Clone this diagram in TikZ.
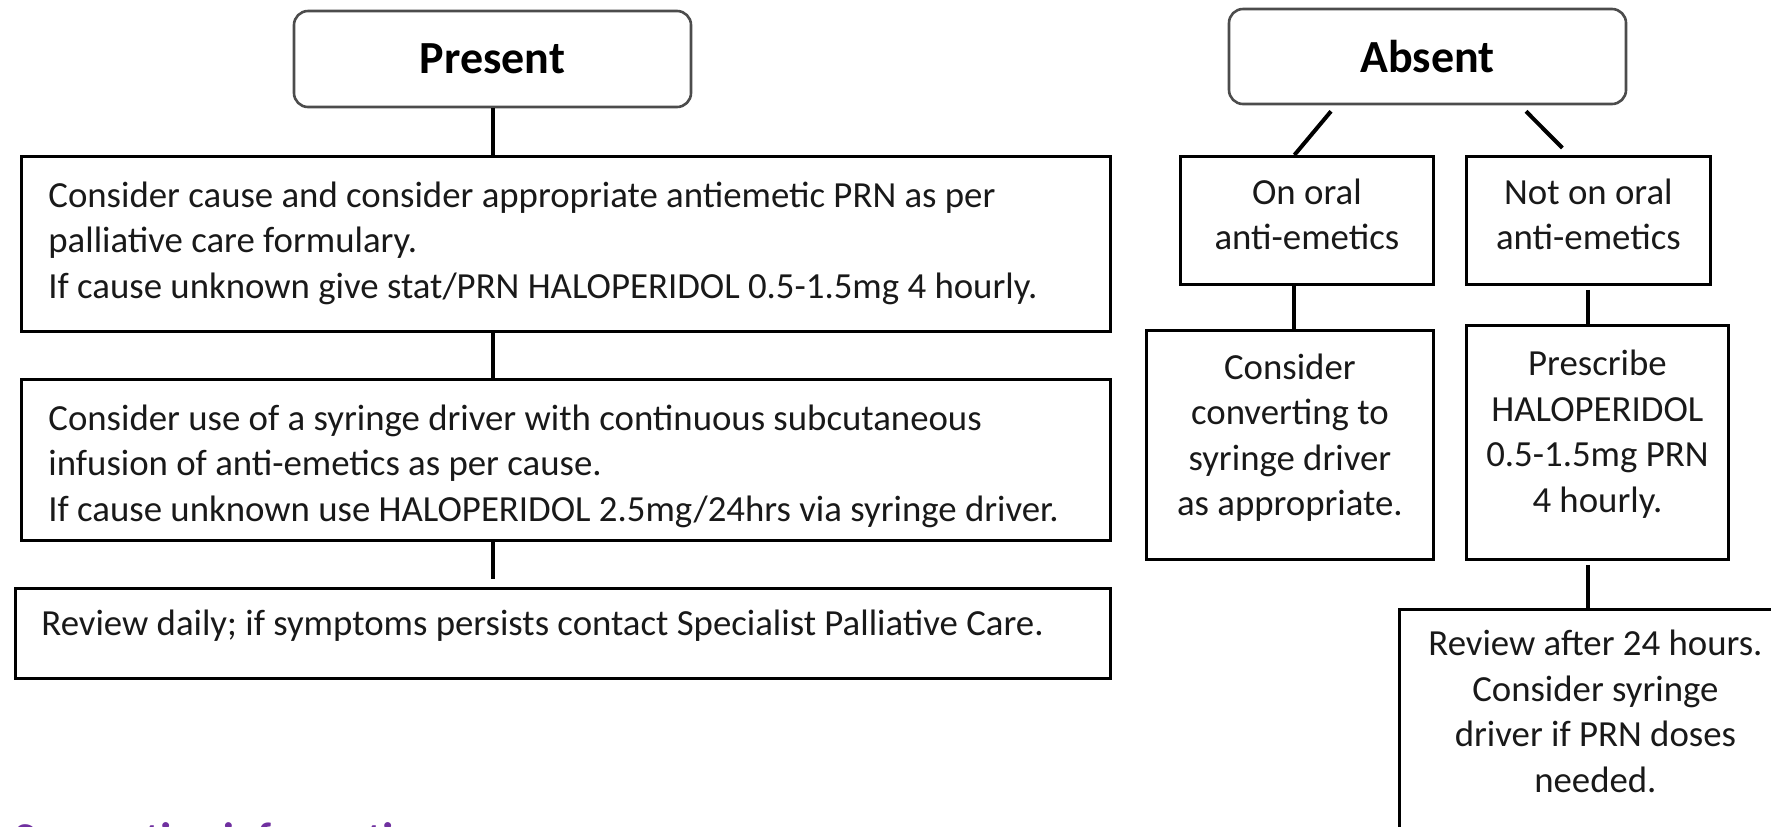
\documentclass[tikz,border=0pt]{standalone}
\usepackage{fontspec}
\setmainfont{Carlito}
\definecolor{headpurple}{RGB}{112,48,160}
% fixed-size text cell, content hung from the top
\newcommand\cellbox[3]{\begin{minipage}[c][#1][t]{#2}#3\end{minipage}}
\begin{document}
\begin{tikzpicture}[x=0.5pt,y=-0.5pt,
  base/.style={font={\fontsize{18.4pt}{22.75pt}\selectfont}, text=black!90},
  headbox/.style={draw=black!70, line width=1.3pt, rounded corners=7pt,
    font={\fontsize{23pt}{26pt}\selectfont\bfseries}, inner sep=0pt},
  stepbox/.style={base, draw=black, line width=1.4pt, anchor=north west},
  link/.style={draw=black, line width=2pt}]
\useasboundingbox (0,0) rectangle (1771,826);

% ---- Present branch ----
\node[headbox, minimum width=198.5pt, minimum height=48pt] (present) at (492.5,59) {Present};

\node[stepbox, inner xsep=13.5pt, inner ysep=9.5pt] (b1) at (20,155)
  {\cellbox{68.5pt}{517.5pt}{\raggedright\strut Consider cause and consider appropriate antiemetic PRN as per\\
   palliative care formulary.\\
   If cause unknown give stat/PRN HALOPERIDOL 0.5-1.5mg 4 hourly.}};

\node[stepbox, inner xsep=13.5pt, inner ysep=9.5pt] (b2) at (20,378)
  {\cellbox{61.5pt}{517.5pt}{\raggedright\strut Consider use of a syringe driver with continuous subcutaneous\\
   infusion of anti-emetics as per cause.\\
   If cause unknown use HALOPERIDOL 2.5mg/24hrs via syringe driver.}};

\node[stepbox, inner xsep=13pt, inner ysep=7.5pt] (b3) at (14,587)
  {\cellbox{30pt}{521.5pt}{\raggedright\strut Review daily; if symptoms persists contact Specialist Palliative Care.}};

\draw[link] (present.south) -- (present.south |- b1.north);
\draw[link] (present.south |- b1.south) -- (present.south |- b2.north);
\draw[link] (present.south |- b2.south) -- ([yshift=4pt]present.south |- b3.north);

% ---- Absent branch ----
\node[headbox, minimum width=198.5pt, minimum height=47.5pt] (absent) at (1427.5,56.5) {Absent};

\node[stepbox, inner xsep=2pt, inner ysep=8pt] (onoral) at (1179,155)
  {\cellbox{48pt}{122.5pt}{\centering\strut On oral\\ anti-emetics}};
\node[stepbox, inner xsep=2pt, inner ysep=8pt] (notoral) at (1465,155)
  {\cellbox{48pt}{118pt}{\centering\strut Not on oral\\ anti-emetics}};

\node[stepbox, inner xsep=2pt, inner ysep=8.5pt] (convert) at (1145,329)
  {\cellbox{97.5pt}{139.5pt}{\centering\strut Consider\\ converting to\\ syringe driver\\ as appropriate.}};
\node[stepbox, inner xsep=2pt, inner ysep=9.25pt] (prescribe) at (1465,324)
  {\cellbox{98.5pt}{127pt}{\centering\strut Prescribe\\ HALOPERIDOL\\ 0.5-1.5mg PRN\\ 4 hourly.}\hspace{19pt}};

\node[stepbox, inner xsep=2pt, inner ysep=7.25pt] (review) at (1398,608)
  {\cellbox{121.5pt}{192pt}{\centering\strut Review after 24 hours.\\ Consider syringe\\ driver if PRN doses\\ needed.}};

\draw[link] ([xshift=-48.25pt,yshift=-3pt]absent.south) -- ([xshift=-6.25pt]onoral.north);
\draw[link] ([xshift=49.25pt,yshift=-3pt]absent.south) -- ([xshift=-13pt,yshift=3.5pt]notoral.north);
\draw[link] ([xshift=-6.25pt]onoral.south) -- ([xshift=-6.25pt]onoral.south |- convert.north);
\draw[link] ([yshift=-2pt]notoral.south) -- (notoral.south |- prescribe.north);
\draw[link] ([xshift=-4.5pt,yshift=-2pt]prescribe.south) -- ([xshift=-4.5pt]prescribe.south |- review.north);

% ---- section heading below ----
\node[anchor=base west, inner sep=0pt, text=headpurple,
  font={\fontsize{22pt}{24pt}\selectfont\bfseries}] (support) at (14,853) {Supportive information};
\end{tikzpicture}
\end{document}
